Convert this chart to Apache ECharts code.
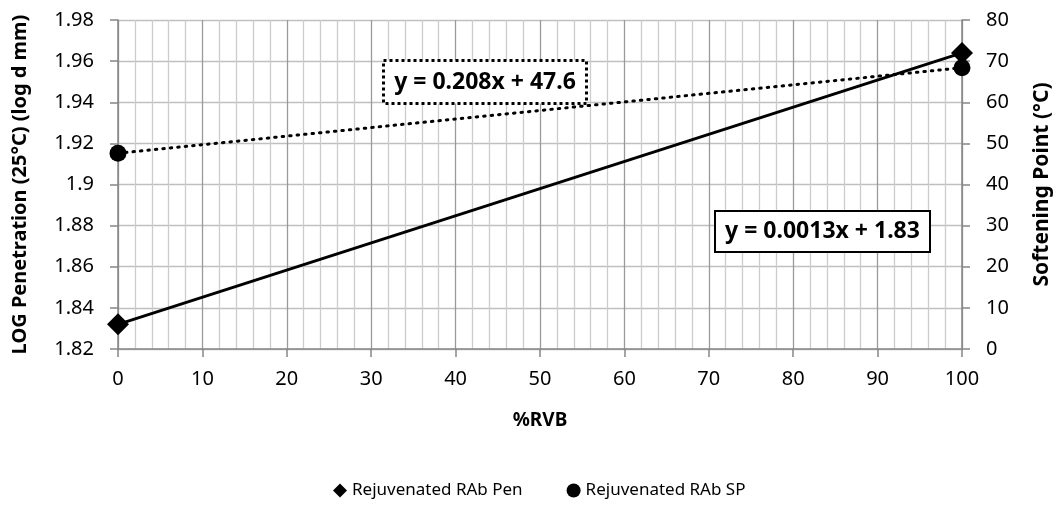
<!DOCTYPE html>
<html><head><meta charset="utf-8">
<script src="https://cdn.jsdelivr.net/npm/echarts@6/dist/echarts.min.js"></script>
<style>html,body{margin:0;padding:0;background:#fff}#c{width:1061px;height:513px}</style>
</head><body><div id="c"></div>
<script>
const rvb = [0, 100];
const penValues = [1.832, 1.964];
const spValues = [47.6, 68.4];
const penEquation = 'y = 0.0013x + 1.83';
const spEquation = 'y = 0.208x + 47.6';
const xTitle = '%RVB';
const leftTitle = 'LOG Penetration (25°C) (log d mm)';
const rightTitle = 'Softening Point (°C)';
const penName = 'Rejuvenated RAb Pen';
const spName = 'Rejuvenated RAb SP';

function fit(xs, ys) {
  const n = xs.length;
  const mx = xs.reduce((a, b) => a + b, 0) / n;
  const my = ys.reduce((a, b) => a + b, 0) / n;
  let sxy = 0, sxx = 0;
  for (let i = 0; i < n; i++) { sxy += (xs[i] - mx) * (ys[i] - my); sxx += (xs[i] - mx) ** 2; }
  const m = sxy / sxx, b = my - m * mx;
  return xs.map(x => [x, m * x + b]);
}

const font = '"Noto Sans", "Open Sans", sans-serif';
const chart = echarts.init(document.getElementById('c'), null, {renderer: 'canvas'});
chart.setOption({
  animation: false,
  textStyle: {fontFamily: font},
  grid: {left: 118, right: 93, top: 20, bottom: 164, containLabel: false},
  xAxis: {
    type: 'value', min: 0, max: 100, interval: 10,
    name: xTitle, nameLocation: 'middle', nameGap: 62,
    nameTextStyle: {fontFamily: font, fontWeight: 'bold', fontSize: 19, color: '#000'},
    axisLine: {lineStyle: {color: '#868686', width: 1.5}},
    axisTick: {show: true, inside: false, length: 8, lineStyle: {color: '#868686', width: 1.5}},
    axisLabel: {fontSize: 20, color: '#000', margin: 20},
    splitLine: {show: true, lineStyle: {color: '#9a9a9a', width: 1.3}},
    minorTick: {show: false, splitNumber: 5},
    minorSplitLine: {show: true, lineStyle: {color: '#cccccc', width: 1.3}}
  },
  yAxis: [{
    type: 'value', min: 1.82, max: 1.98, interval: 0.02,
    name: leftTitle, nameLocation: 'middle', nameGap: 88, nameRotate: 90,
    nameTextStyle: {fontFamily: font, fontWeight: 'bold', fontSize: 20, color: '#000'},
    axisLine: {show: true, lineStyle: {color: '#868686', width: 1.5}},
    axisTick: {show: true, inside: false, length: 8, lineStyle: {color: '#868686', width: 1.5}},
    axisLabel: {fontSize: 20, color: '#000', margin: 24},
    splitLine: {show: true, lineStyle: {color: '#c0c0c0', width: 1.3}}
  }, {
    type: 'value', min: 0, max: 80, interval: 10, position: 'right',
    name: rightTitle, nameLocation: 'middle', nameGap: 70, nameRotate: 90,
    nameTextStyle: {fontFamily: font, fontWeight: 'bold', fontSize: 21, color: '#000'},
    axisLine: {show: true, lineStyle: {color: '#868686', width: 1.5}},
    axisTick: {show: true, inside: false, length: 8, lineStyle: {color: '#868686', width: 1.5}},
    axisLabel: {fontSize: 20, color: '#000', margin: 24},
    splitLine: {show: false}
  }],
  legend: {
    bottom: 9, left: 328, itemGap: 44, itemWidth: 14, itemHeight: 14,
    data: [{name: penName, icon: 'diamond'}, {name: spName, icon: 'circle'}],
    itemStyle: {opacity: 1},
    textStyle: {fontSize: 17, color: '#000', fontFamily: font}
  },
  series: [
    {type: 'line', yAxisIndex: 0, data: fit(rvb, penValues), symbol: 'none',
     lineStyle: {color: '#000', width: 3, type: 'solid'}, z: 3, silent: true},
    {type: 'line', yAxisIndex: 1, data: fit(rvb, spValues), symbol: 'none',
     lineStyle: {color: '#000', width: 3, type: [1.5, 6], cap: 'round'}, z: 3, silent: true},
    {name: penName, type: 'scatter', yAxisIndex: 0, symbol: 'diamond', symbolSize: 22,
     itemStyle: {color: '#000', opacity: 1}, data: rvb.map((x, i) => [x, penValues[i]]), z: 5},
    {name: spName, type: 'scatter', yAxisIndex: 1, symbol: 'circle', symbolSize: 17,
     itemStyle: {color: '#000', opacity: 1}, data: rvb.map((x, i) => [x, spValues[i]]), z: 5}
  ],
  graphic: [
    {type: 'group', left: 382, top: 59, z: 100, children: [
      {type: 'rect', z: 100, shape: {x: 0, y: 0, width: 203, height: 43},
       style: {fill: '#fff', stroke: '#000', lineWidth: 3, lineDash: [3, 3]}},
      {type: 'text', z: 101, x: 101.5, y: 21.5, style: {text: spEquation, font: 'bold 23px ' + font, fill: '#000', align: 'center', verticalAlign: 'middle'}}
    ]},
    {type: 'group', left: 714, top: 210, z: 100, children: [
      {type: 'rect', z: 100, shape: {x: 0, y: 0, width: 215, height: 41},
       style: {fill: '#fff', stroke: '#000', lineWidth: 2}},
      {type: 'text', z: 101, x: 107.5, y: 20.5, style: {text: penEquation, font: 'bold 23px ' + font, fill: '#000', align: 'center', verticalAlign: 'middle'}}
    ]}
  ]
});
</script></body></html>
